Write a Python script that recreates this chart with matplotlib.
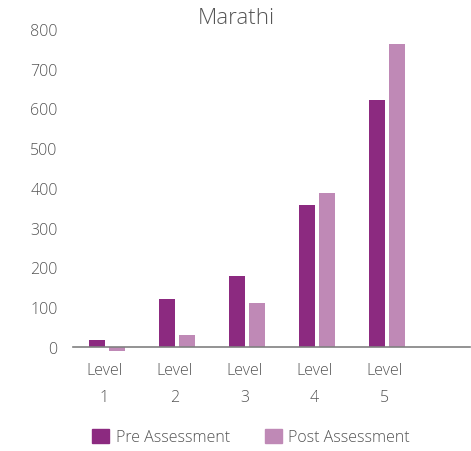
import matplotlib
matplotlib.use("Agg")
import matplotlib.pyplot as plt
import numpy as np
from matplotlib.patches import Patch

categories = ["Level\n1", "Level\n2", "Level\n3", "Level\n4", "Level\n5"]
pre_values = [18, 120, 179, 356, 622]
post_values = [-10, 29, 111, 388, 763]
series_names = ["Pre Assessment", "Post Assessment"]
yticks = [0, 100, 200, 300, 400, 500, 600, 700, 800]

PRE_COLOR = "#8C2A80"
POST_COLOR = "#BF89B6"
TEXT_COLOR = "#555555"

plt.rcParams['font.family'] = ['Open Sans', 'DejaVu Sans']
plt.rcParams['font.weight'] = 'light'

W, H = 471, 452
fig = plt.figure(figsize=(W / 100, H / 100), dpi=100)

left_px, right_px, top_px, bottom_px = 73, 470, 30, 355.6
ax = fig.add_axes([left_px / W, 1 - bottom_px / H, (right_px - left_px) / W, (bottom_px - top_px) / H])

x = np.arange(len(categories))
bw = 0.228
off = 0.142
ax.bar(x - off, pre_values, width=bw, color=PRE_COLOR)
ax.bar(x + off, post_values, width=bw, color=POST_COLOR)

ax.set_xlim(-0.49, 5.18)
ax.set_ylim(-20, 800)
ax.set_yticks(yticks)
ax.set_yticklabels([str(v) for v in yticks])
ax.set_xticks(x - 0.04)
ax.set_xticklabels(categories)

for s in ['top', 'right', 'left']:
    ax.spines[s].set_visible(False)
ax.spines['bottom'].set_position(('data', 0))
ax.spines['bottom'].set_color('#808080')
ax.spines['bottom'].set_linewidth(1.2)

ax.tick_params(axis='y', length=0, pad=11, labelsize=11.5, labelcolor=TEXT_COLOR)
ax.tick_params(axis='x', length=0, pad=11, labelsize=11.5, labelcolor=TEXT_COLOR)
for lbl in ax.get_xticklabels():
    lbl.set_linespacing(1.95)

fig.text(236 / W, 1 - 19 / H, "Marathi", ha='center', va='center', fontsize=16, color=TEXT_COLOR)

handles = [Patch(color=PRE_COLOR), Patch(color=POST_COLOR)]
fig.legend(handles, series_names, loc='center', bbox_to_anchor=(251 / W, 1 - 438 / H),
           ncol=2, frameon=False, fontsize=11.5, labelcolor=TEXT_COLOR,
           handlelength=1.05, handleheight=1.05, handletextpad=0.4, columnspacing=2.2)

fig.savefig("out.png", dpi=100)
